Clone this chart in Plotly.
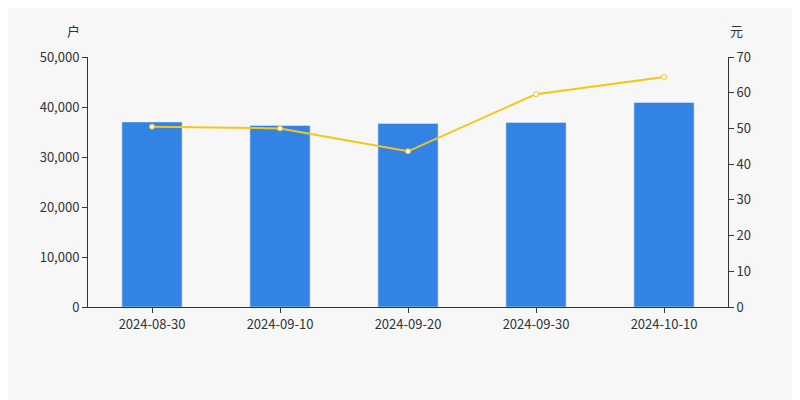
import plotly.graph_objects as go

dates = ["2024-08-30", "2024-09-10", "2024-09-20", "2024-09-30", "2024-10-10"]
holders = [37000, 36300, 36700, 36900, 40900]
price = [50.5, 50.0, 43.6, 59.6, 64.4]

fig = go.Figure()
fig.add_trace(go.Bar(x=dates, y=holders, marker_color="#3283e3", width=0.47, name="户数"))
fig.add_trace(go.Scatter(x=dates, y=price, yaxis="y2", mode="lines+markers",
                         line=dict(color="#f5c518", width=2),
                         marker=dict(size=5, color="white", line=dict(color="#f5c518", width=1)),
                         name="价格"))
fig.update_layout(
    width=800, height=400, margin=dict(l=80, r=80, t=49, b=101),
    paper_bgcolor="#f7f7f7", plot_bgcolor="#f7f7f7", showlegend=False,
    font=dict(family="Noto Sans CJK SC", size=13, color="#333"),
    xaxis=dict(type="category", showline=True, linecolor="#333", ticks="outside",
               tickcolor="#333", ticklen=5, showgrid=False),
    yaxis=dict(range=[0, 50000], dtick=10000, tickformat=",", showgrid=False,
               showline=True, linecolor="#333", ticks="outside", tickcolor="#333", ticklen=5,
               zeroline=False),
    yaxis2=dict(range=[0, 70], dtick=10, overlaying="y", side="right", showgrid=False,
                showline=True, linecolor="#333", ticks="outside", tickcolor="#333", ticklen=5,
                zeroline=False),
    annotations=[
        dict(text="户", x=80, y=372, xref="x domain", yref="paper", showarrow=False),
    ],
)
fig.layout.annotations = [
    dict(text="户", x=-0.01, y=1.06, xref="paper", yref="paper", xanchor="right", yanchor="bottom", showarrow=False),
    dict(text="元", x=1.0, y=1.06, xref="paper", yref="paper", xanchor="left", yanchor="bottom", showarrow=False),
]
fig.write_html("out.html")
